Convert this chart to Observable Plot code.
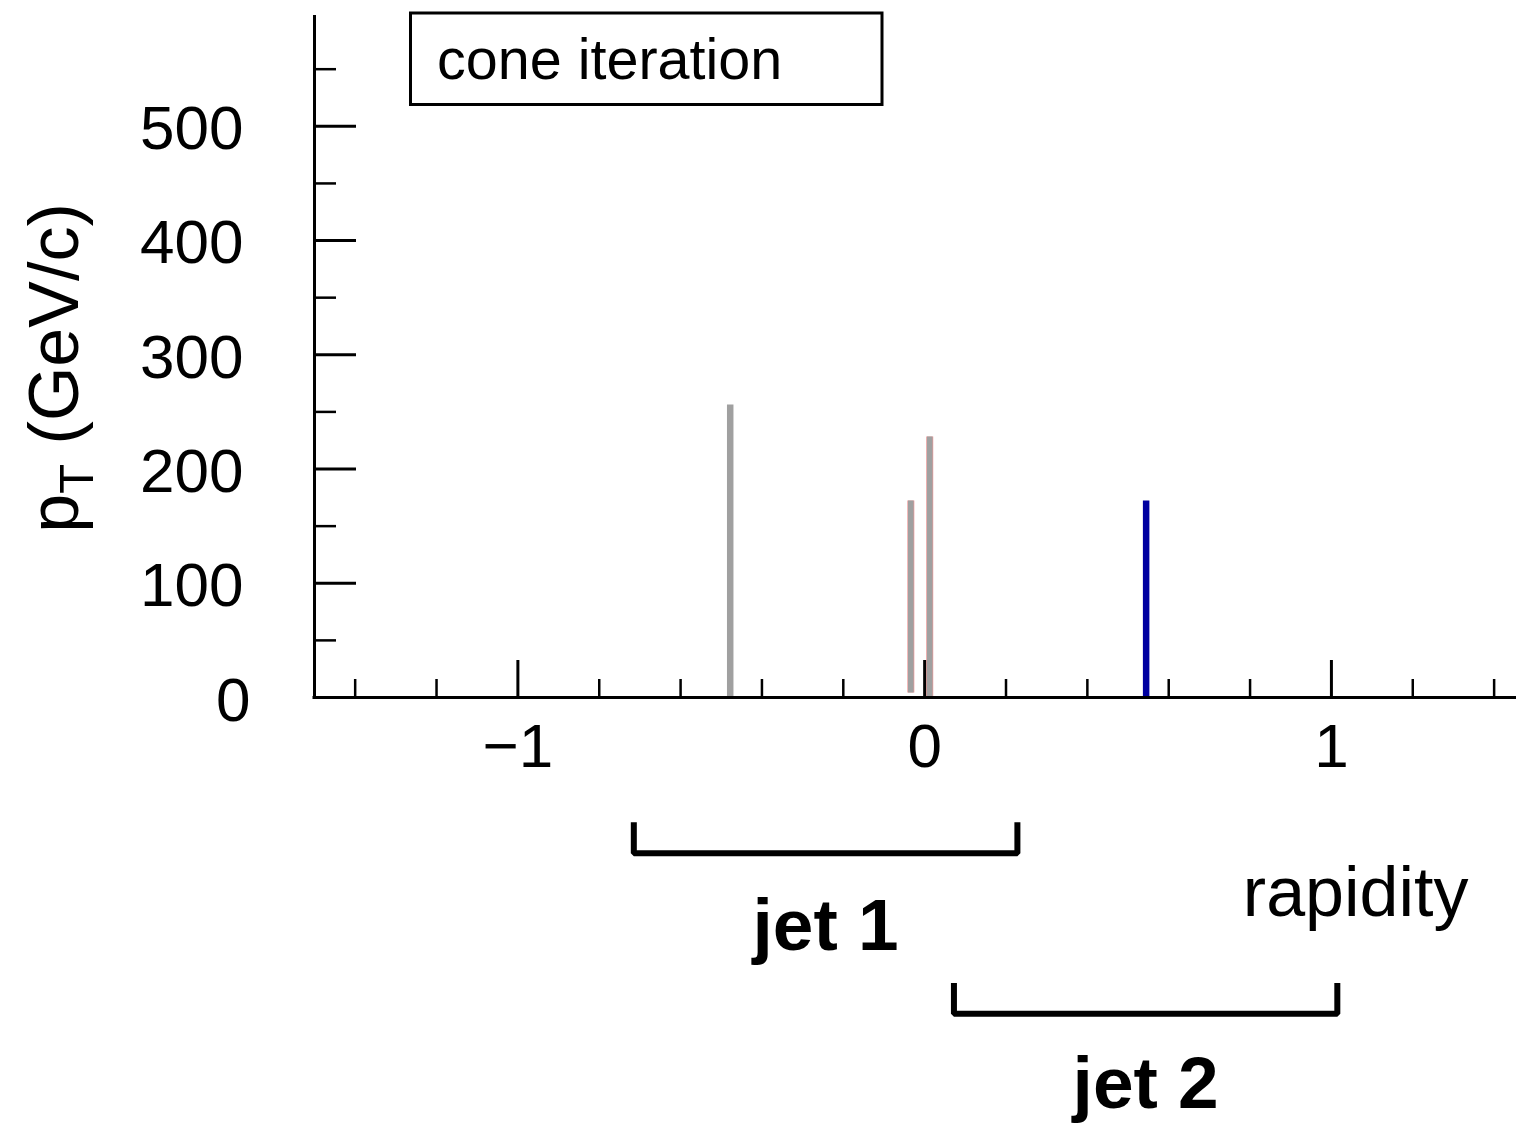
<!DOCTYPE html>
<html><head><meta charset="utf-8">
<script src="https://cdn.jsdelivr.net/npm/d3@7"></script>
<script src="https://cdn.jsdelivr.net/npm/@observablehq/plot@0.6"></script>
<style>
html,body{margin:0;padding:0;background:#fff;overflow:hidden}
#wrap{position:relative;width:1516px;height:1123px}
#wrap svg{display:block;max-width:none}
</style></head><body><div id="wrap"></div>
<script>
// ---- data ----
const rapidity = [-0.478, -0.034, 0.0125, 0.5445];
const pT = [256, 172, 228, 172];
const pTbase = [0, 4, 0, 0];
const kind = ["particle", "candidate", "candidate", "jet"];
const kinds = ["particle", "candidate", "jet"];
const jetNames = ["jet 1", "jet 2"];
const jetLo = [-0.715, 0.072];
const jetHi = [0.228, 1.0145];
const xMajor = [-1, 0, 1];
const xLabels = ["\u22121", "0", "1"];
const xMinor = [-1.4, -1.2, -0.8, -0.6, -0.4, -0.2, 0.2, 0.4, 0.6, 0.8, 1.2, 1.4];
const yMajor = [0, 100, 200, 300, 400, 500];
const yLabels = ["0", "100", "200", "300", "400", "500"];
const yMinor = [50, 150, 250, 350, 450, 550];
const xDomain = [-1.5, 1.455];
const yDomain = [0, 597];

// ---- layout ----
const W = 1516, H = 1123;
const mL = 314, mR = 0, mT = 15, mB = 426;
const frameW = W - mL - mR, frameH = H - mT - mB;
const unitsPerPx = (yDomain[1] - yDomain[0]) / frameH;
const below = px => -px * unitsPerPx; // pixel offset below the x axis -> y value
const font = "'Liberation Sans', Arial, Helvetica, sans-serif";

const particles = rapidity.map((r, i) => ({rapidity: r, pt: pT[i], base: pTbase[i], kind: kind[i]}));
const jets = jetNames.map((n, i) => ({name: n, lo: jetLo[i], hi: jetHi[i], mid: (jetLo[i] + jetHi[i]) / 2, row: i}));
const bracketPts = jets.flatMap(j => {
  const top = below(124.7 + 160.8 * j.row), bot = below(155.7 + 160.6 * j.row);
  return [{x: j.lo, y: top, z: j.name}, {x: j.lo, y: bot, z: j.name}, {x: j.hi, y: bot, z: j.name}, {x: j.hi, y: top, z: j.name}];
});
const yTicks = yMajor.map((v, i) => ({v, label: yLabels[i]}));

const chart = Plot.plot({
  width: W, height: H,
  marginLeft: mL, marginRight: mR, marginTop: mT, marginBottom: mB,
  style: {fontFamily: font, background: "white", overflow: "visible", color: "black"},
  x: {domain: xDomain, axis: null},
  y: {domain: yDomain, axis: null},
  color: {domain: kinds, range: ["#a0a0a0", "#a0a0a0", "#0000a0"]},
  marks: [
    // particle towers
    Plot.ruleX(particles.filter(d => d.kind === "candidate"), {x: "rapidity", y1: "base", y2: "pt", stroke: "#ee9a9a", strokeWidth: 7}),
    Plot.ruleX(particles, {x: "rapidity", y1: "base", y2: "pt", stroke: "kind", strokeWidth: d => d.kind === "candidate" ? 5.6 : 6.5}),
    // axes lines
    Plot.ruleY([0], {stroke: "black", strokeWidth: 3, insetLeft: -1.5}),
    Plot.ruleX([xDomain[0]], {stroke: "black", strokeWidth: 3, insetBottom: -1.5}),
    // x ticks (inward, upward)
    Plot.ruleX(xMajor, {x: d => d, stroke: "black", strokeWidth: 3, insetTop: frameH - 37}),
    Plot.ruleX(xMinor, {x: d => d, stroke: "black", strokeWidth: 2.5, insetTop: frameH - 18}),
    // y ticks (inward, rightward)
    Plot.ruleY(yMajor, {y: d => d, stroke: "black", strokeWidth: 3, insetRight: frameW - 42}),
    Plot.ruleY(yMinor, {y: d => d, stroke: "black", strokeWidth: 2.5, insetRight: frameW - 22}),
    // tick labels
    Plot.text(yTicks.filter(d => d.v !== 0), {y: "v", text: "label", frameAnchor: "left", textAnchor: "end", dx: -71, dy: 3, fontSize: 62, fill: "black"}),
    Plot.text(yTicks.filter(d => d.v === 0), {y: "v", text: "label", frameAnchor: "left", textAnchor: "end", dx: -64, dy: 4, fontSize: 62, fill: "black"}),
    Plot.text(xMajor, {x: d => d, text: (d, i) => xLabels[i], frameAnchor: "bottom", dy: 69.5, fontSize: 62, fill: "black"}),
    // x axis title
    Plot.text(["rapidity"], {frameAnchor: "bottom-right", textAnchor: "end", lineAnchor: "bottom", dx: -48, dy: 218, fontSize: 70, fill: "black"}),
    // jet brackets
    Plot.line(bracketPts, {x: "x", y: "y", z: "z", stroke: "black", strokeWidth: 6, strokeLinejoin: "miter", strokeLinecap: "butt"}),
    Plot.text(jets, {x: "mid", y: d => below(252 + 158 * d.row), text: "name", lineAnchor: "bottom", fontSize: 73, fontWeight: "bold", fill: "black"})
  ]
});

document.getElementById("wrap").appendChild(chart);

// Legend box and y-axis title (with subscript)
const svg = d3.select(chart);
const g = svg.append("g").attr("font-family", font).attr("fill", "black");
g.append("rect").attr("x", 410.5).attr("y", 13).attr("width", 471.5).attr("height", 91.5)
  .attr("fill", "white").attr("stroke", "black").attr("stroke-width", 3);
g.append("text").attr("x", 437).attr("y", 79).attr("text-anchor", "start").attr("font-size", 57.5).text("cone iteration");
const yt = g.append("text").attr("transform", "translate(78,368) rotate(-90)")
  .attr("text-anchor", "middle").attr("font-size", 70);
yt.append("tspan").text("p");
yt.append("tspan").attr("font-size", 49).attr("dy", 15).text("T");
yt.append("tspan").attr("dy", -15).text(" (GeV/c)");
</script>
</body></html>
